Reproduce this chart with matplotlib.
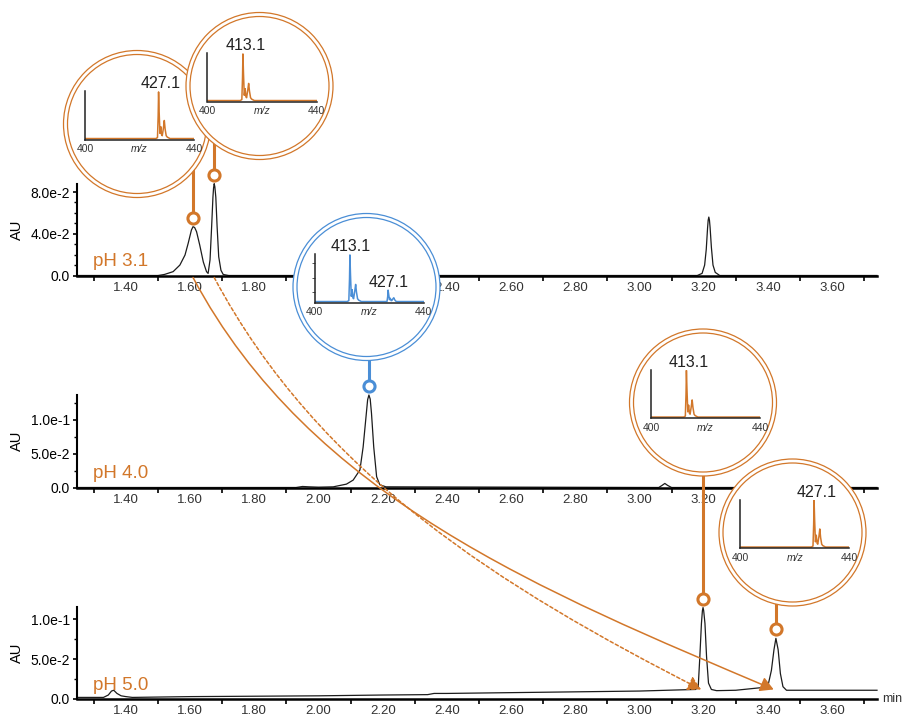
import matplotlib
matplotlib.use("Agg")
import matplotlib.pyplot as plt
import numpy as np
from matplotlib.patches import Circle, FancyArrowPatch
from matplotlib.lines import Line2D
from matplotlib.path import Path
from matplotlib.transforms import IdentityTransform

plt.rcParams['font.family'] = ['Liberation Sans', 'DejaVu Sans']

W, H = 903, 717
ORANGE = '#D2772A'
BLUE = '#4A8ED6'
TRACE = '#1c1c1c'

# chromatograms: time (min) and absorbance (AU)
t_ph31 = [1.2475, 1.50, 1.52, 1.547, 1.568, 1.584, 1.594, 1.604, 1.609, 1.614, 1.620, 1.630,
          1.641, 1.651, 1.656, 1.662, 1.667, 1.671, 1.673, 1.675, 1.677, 1.680, 1.684, 1.689,
          1.696, 1.703, 1.72, 3.18, 3.195, 3.203, 3.208, 3.212, 3.214, 3.216, 3.218, 3.220,
          3.224, 3.229, 3.236, 3.25, 3.74]
au_ph31 = [0, 0, 0.001, 0.0037, 0.010, 0.0196, 0.031, 0.0436, 0.0468, 0.046, 0.042, 0.029,
           0.013, 0.0037, 0.002, 0.015, 0.047, 0.075, 0.084, 0.088, 0.085, 0.075, 0.047, 0.018,
           0.005, 0.001, 0, 0, 0.002, 0.010, 0.025, 0.045, 0.053, 0.056, 0.053, 0.046,
           0.027, 0.010, 0.003, 0, 0]

t_ph40 = [1.2475, 1.93, 1.95, 1.97, 2.00, 2.046, 2.087, 2.108, 2.129, 2.139, 2.145, 2.149,
          2.153, 2.157, 2.161, 2.165, 2.172, 2.181, 2.191, 2.21, 3.06, 3.07, 3.079, 3.088,
          3.10, 3.74]
au_ph40 = [0, 0, 0.0015, 0.001, 0.0005, 0.001, 0.005, 0.011, 0.026, 0.060, 0.090, 0.110,
           0.130, 0.137, 0.131, 0.110, 0.060, 0.016, 0.004, 0.001, 0.0, 0.003, 0.006, 0.003,
           0.0, 0.0]

t_ph50 = [1.2475, 1.30, 1.33, 1.345, 1.355, 1.362, 1.372, 1.385, 1.40, 1.42, 1.60, 1.80,
          2.00, 2.20, 2.34, 2.36, 2.40, 2.60, 2.80, 3.00, 3.13, 3.175, 3.183, 3.188, 3.193,
          3.196, 3.198, 3.200, 3.204, 3.209, 3.215, 3.224, 3.24, 3.30, 3.385, 3.401, 3.411,
          3.419, 3.425, 3.432, 3.439, 3.447, 3.458, 3.50, 3.74]
au_ph50 = [0.002, 0.002, 0.002, 0.005, 0.010, 0.011, 0.007, 0.004, 0.003, 0.002, 0.003, 0.0035,
           0.004, 0.005, 0.0055, 0.007, 0.007, 0.008, 0.009, 0.010, 0.0115, 0.012, 0.0155, 0.053,
           0.095, 0.111, 0.115, 0.111, 0.095, 0.053, 0.020, 0.012, 0.0105, 0.011, 0.0145, 0.018,
           0.036, 0.062, 0.0763, 0.062, 0.032, 0.0155, 0.011, 0.011, 0.011]

ph_labels = ['pH 3.1', 'pH 4.0', 'pH 5.0']

# mass spectra shown in the call-outs (m/z, relative intensity)
mz_413 = [400.0, 412.0, 412.6, 412.85, 413.0, 413.2, 413.5, 413.8, 414.1, 414.35, 414.8,
          415.1, 415.4, 415.8, 416.2, 417.2, 440.0]
int_413 = [0.02, 0.02, 0.04, 0.50, 1.00, 0.60, 0.13, 0.27, 0.10, 0.08, 0.25,
           0.38, 0.22, 0.08, 0.05, 0.02, 0.02]
mz_427 = [400.0, 426.0, 426.6, 426.85, 427.0, 427.2, 427.5, 427.8, 428.1, 428.35, 428.8,
          429.1, 429.4, 429.8, 430.2, 431.2, 440.0]
int_427 = [0.02, 0.02, 0.04, 0.50, 1.00, 0.60, 0.13, 0.27, 0.10, 0.08, 0.25,
           0.40, 0.22, 0.08, 0.05, 0.02, 0.02]
mz_mix = [400.0, 412.0, 412.6, 412.85, 413.0, 413.2, 413.5, 413.8, 414.1, 414.35, 414.8,
          415.1, 415.4, 415.8, 416.2, 417.2, 426.0, 426.6, 426.85, 427.0, 427.2, 427.5,
          427.8, 428.1, 428.35, 428.8, 429.1, 429.4, 429.8, 430.2, 431.2, 440.0]
int_mix = [0.02, 0.02, 0.04, 0.50, 1.00, 0.60, 0.13, 0.27, 0.10, 0.08, 0.25,
           0.38, 0.22, 0.08, 0.05, 0.02, 0.02, 0.02, 0.12, 0.26, 0.18, 0.06,
           0.09, 0.04, 0.04, 0.08, 0.10, 0.06, 0.03, 0.02, 0.02, 0.02]

# call-outs: which panel, peak time, peak height, spectrum, labels
co_panel = [0, 0, 1, 2, 2]
co_time = [1.609, 1.675, 2.157, 3.198, 3.425]
co_apex = [0.0468, 0.088, 0.137, 0.115, 0.0763]
co_color = [ORANGE, ORANGE, BLUE, ORANGE, ORANGE]
co_mz = [mz_427, mz_413, mz_mix, mz_413, mz_427]
co_int = [int_427, int_413, int_mix, int_413, int_427]
co_labels = [[(427.1, 1.0, '427.1')], [(413.1, 1.0, '413.1')],
             [(413.1, 1.0, '413.1'), (427.1, 0.26, '427.1')],
             [(413.1, 1.0, '413.1')], [(427.1, 1.0, '427.1')]]
# circle centres in image pixels
co_center = [(137, 124), (259.5, 86), (366.5, 287), (703, 402.5), (792.5, 532.5)]

# migration arrows (pH 3.1 -> pH 5.0)
arr_from = [1.609, 1.675]
arr_to = [3.418, 3.192]
arr_ls = ['-', (0, (2.2, 1.6))]
arr_end_angle = [-23, -27]

xmajor = [1.40, 1.60, 1.80, 2.00, 2.20, 2.40, 2.60, 2.80, 3.00, 3.20, 3.40, 3.60]
xminor = [1.30, 1.50, 1.70, 1.90, 2.10, 2.30, 2.50, 2.70, 2.90, 3.10, 3.30, 3.50, 3.70]
ymajor = [[0, 0.04, 0.08], [0, 0.05, 0.10], [0, 0.05, 0.10]]
ylabels = [['0.0', '4.0e-2', '8.0e-2'], ['0.0', '5.0e-2', '1.0e-1'], ['0.0', '5.0e-2', '1.0e-1']]
yminor = [[0.01, 0.02, 0.03, 0.05, 0.06, 0.07], [0.025, 0.075, 0.125], [0.025, 0.075]]
ytop = [0.0877, 0.137, 0.1157]

fig = plt.figure(figsize=(W / 100, H / 100), dpi=100)
fig.patch.set_facecolor('white')

panel_px = [(184, 275.5), (395, 487.5), (607, 699)]
traces = [(t_ph31, au_ph31), (t_ph40, au_ph40), (t_ph50, au_ph50)]
axs = []
for i, (top, bot) in enumerate(panel_px):
    ax = fig.add_axes([77 / W, (H - bot) / H, 800 / W, (bot - top) / H])
    ax.patch.set_alpha(0)
    ax.plot(traces[i][0], traces[i][1], color=TRACE, lw=0.9, clip_on=False)
    ax.set_xlim(1.2475, 3.74)
    ax.set_ylim(0, ytop[i])
    for s in ['top', 'right']:
        ax.spines[s].set_visible(False)
    ax.spines['left'].set_linewidth(1.5)
    ax.spines['bottom'].set_linewidth(1.8)
    ax.set_xticks(xmajor)
    ax.set_xticklabels(['%.2f' % v for v in xmajor])
    ax.set_xticks(xminor, minor=True)
    ax.set_yticks(ymajor[i])
    ax.set_yticklabels(ylabels[i])
    ax.set_yticks(yminor[i], minor=True)
    ax.tick_params(axis='x', which='major', length=0, pad=4.5, labelsize=9.5, labelcolor='#333333')
    ax.tick_params(axis='x', which='minor', length=3.5, width=1.2, direction='out')
    ax.tick_params(axis='y', which='major', length=3, width=1.2, pad=2, labelsize=10)
    ax.tick_params(axis='y', which='minor', length=2.2, width=1.0)
    ax.set_ylabel('AU', fontsize=10.5)
    ax.yaxis.set_label_coords(-0.066, 0.5)
    ax.text(0.02, 0.1, ph_labels[i], transform=ax.transAxes, color=ORANGE,
            fontsize=13.5, va='baseline')
    axs.append(ax)

axs[2].text(1.006, 0.0, 'min', transform=axs[2].transAxes, fontsize=9,
            va='center', ha='left', color='#333333')

# curved arrows showing the shift of each compound
for k in range(len(arr_from)):
    p0 = axs[0].transData.transform((arr_from[k], 0)) + np.array([0, -2])
    p3 = axs[2].transData.transform((arr_to[k], 0.012))
    chord = np.hypot(*(p3 - p0))
    a0 = np.radians(-62)
    a1 = np.radians(arr_end_angle[k])
    p1 = p0 + 0.35 * chord * np.array([np.cos(a0), np.sin(a0)])
    p2 = p3 - 0.35 * chord * np.array([np.cos(a1), np.sin(a1)])
    path = Path([p0, p1, p2, p3], [Path.MOVETO, Path.CURVE4, Path.CURVE4, Path.CURVE4])
    arr = FancyArrowPatch(path=path, arrowstyle='-|>,head_length=0.8,head_width=0.45',
                          mutation_scale=10, color=ORANGE, lw=1.1, linestyle=arr_ls[k],
                          transform=IdentityTransform(), zorder=3)
    fig.add_artist(arr)

# call-out circles with mass spectra
for k in range(len(co_time)):
    ax = axs[co_panel[k]]
    col = co_color[k]
    cx, cy = co_center[k]
    px = ax.transData.transform((co_time[k], co_apex[k]))
    mx, my = px[0], px[1] + 9
    fig.add_artist(Line2D([mx, mx], [my, H - cy], color=col, lw=2.2,
                          transform=IdentityTransform(), zorder=4))
    fig.add_artist(Line2D([mx], [my], marker='o', ms=8, mew=2.2, mfc='white', mec=col,
                          transform=IdentityTransform(), zorder=4.2))
    z = 5 + k
    fig.add_artist(Circle((cx, H - cy), 73.5, transform=IdentityTransform(), fc='white',
                          ec=col, lw=0.9, zorder=z))
    fig.add_artist(Circle((cx, H - cy), 69.5, transform=IdentityTransform(), fc='none',
                          ec=col, lw=0.9, zorder=z + 0.1))
    ins = fig.add_axes([(cx - 52) / W, (H - (cy + 15.5)) / H, 109 / W, 48.5 / H])
    ins.set_zorder(z + 0.5)
    ins.patch.set_alpha(0)
    ins.plot(co_mz[k], co_int[k], color=col, lw=1.1)
    ins.set_xlim(400, 440)
    ins.set_ylim(0, 1.02)
    for s in ['top', 'right']:
        ins.spines[s].set_visible(False)
    for s in ['left', 'bottom']:
        ins.spines[s].set_linewidth(1.1)
        ins.spines[s].set_color('#222222')
    ins.set_xticks([])
    if col == BLUE:
        ins.set_yticks([0.22, 0.52, 0.83])
        ins.set_yticklabels([])
        ins.tick_params(axis='y', length=2, width=0.7, color='#555555')
    else:
        ins.set_yticks([])
    ins.text(0, -0.2, '400', transform=ins.transAxes, ha='center', va='center', fontsize=7.5,
             color='#333333')
    ins.text(1, -0.2, '440', transform=ins.transAxes, ha='center', va='center', fontsize=7.5,
             color='#333333')
    ins.text(0.5, -0.2, 'm/z', transform=ins.transAxes, ha='center', va='center',
             fontsize=7.5, style='italic', color='#333333')
    for mz, h, lab in co_labels[k]:
        off = 0.0 if col == BLUE else 0.8
        ins.text(mz + off, h + 0.01, lab, ha='center', va='bottom', fontsize=11.5,
                 color='#222222', clip_on=False)

fig.savefig('out.png', dpi=100)
